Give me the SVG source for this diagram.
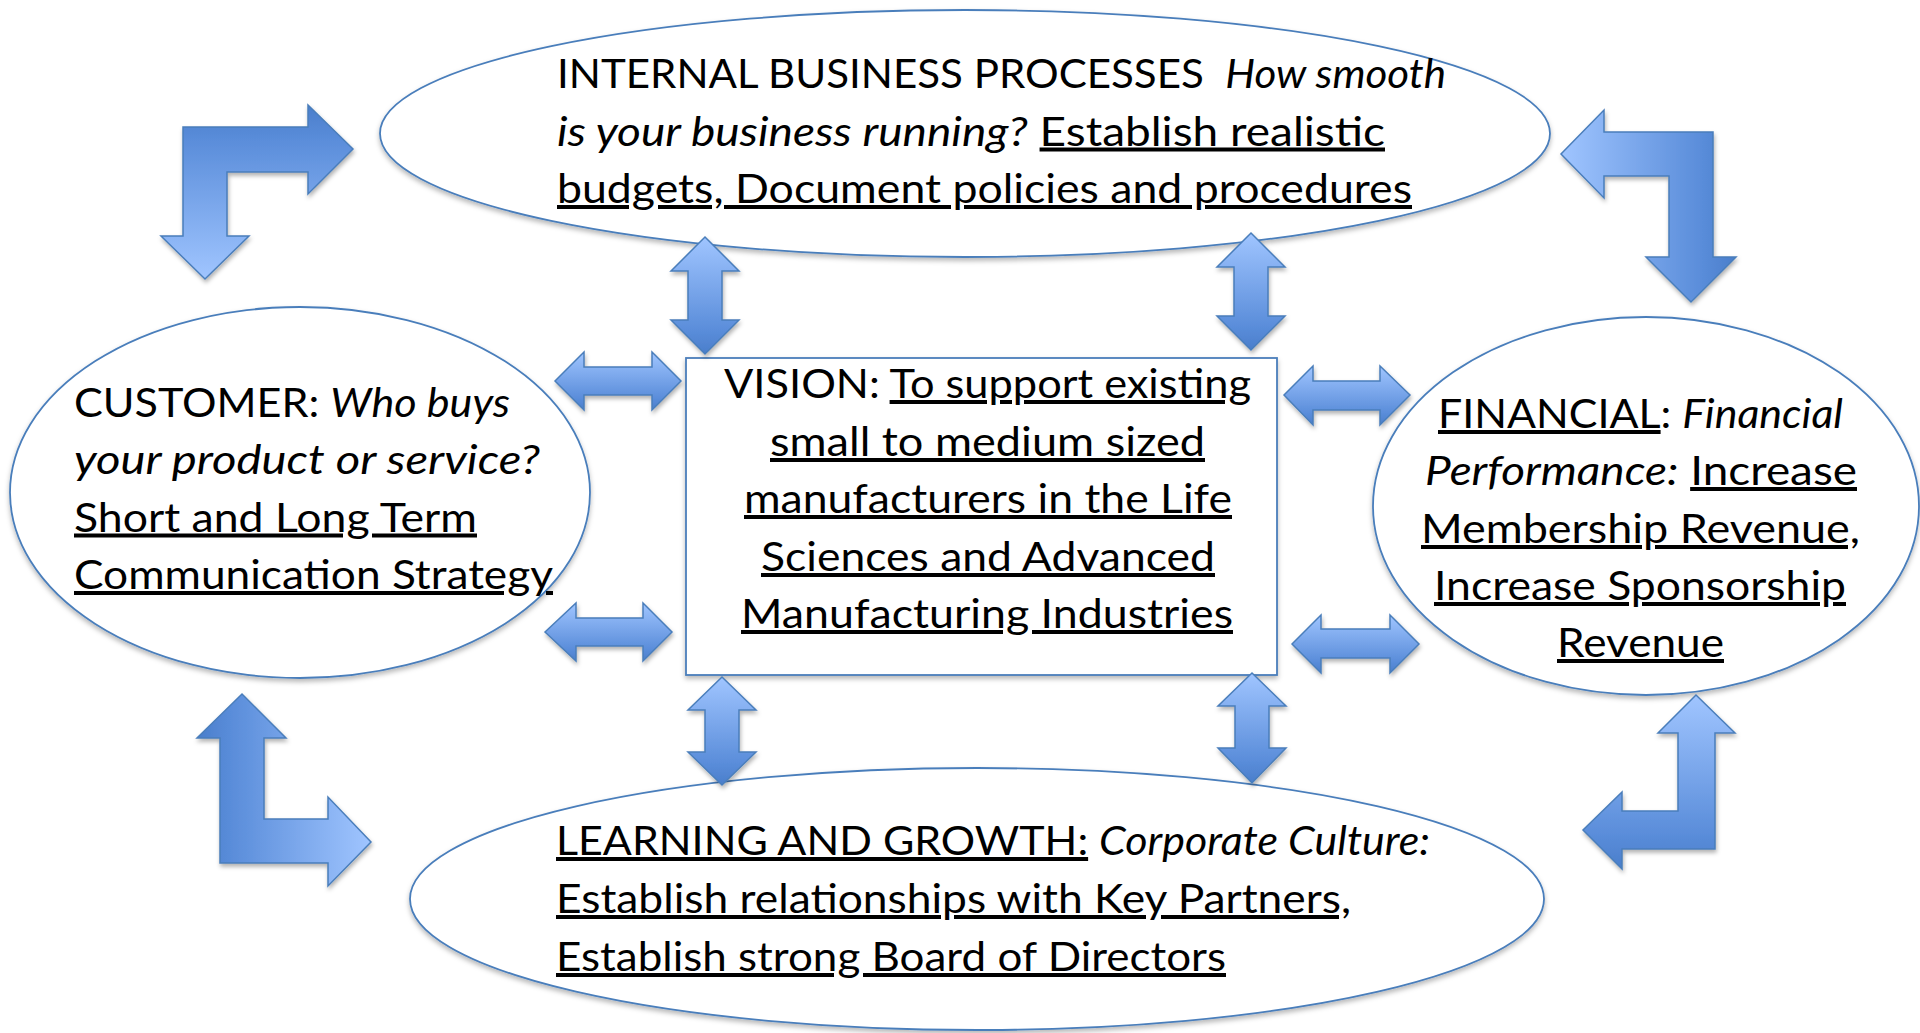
<svg xmlns="http://www.w3.org/2000/svg" width="1920" height="1033" viewBox="0 0 1920 1033">
<defs>
<style>
.node{fill:#ffffff;stroke:#4A7EBB;stroke-width:1.8;filter:url(#sh)}
.arw{stroke:#4A7EBB;stroke-width:1.5;stroke-linejoin:miter;filter:url(#sh2)}
text{font-family:Lato,"Liberation Sans",sans-serif;font-size:40px;fill:#000}
.i{font-style:italic}
.u{text-decoration:underline;text-decoration-skip-ink:none;text-decoration-thickness:3px}
</style>
<filter id="sh" x="-5%" y="-5%" width="110%" height="115%">
<feDropShadow dx="0" dy="3" stdDeviation="2.5" flood-color="#000" flood-opacity="0.28"/>
</filter>
<filter id="sh2" x="-20%" y="-20%" width="140%" height="140%">
<feDropShadow dx="1" dy="3" stdDeviation="2" flood-color="#000" flood-opacity="0.3"/>
</filter>
<linearGradient id="gDown" x1="0" y1="0" x2="0" y2="1">
<stop offset="0" stop-color="#A0C5FF"/><stop offset="0.8" stop-color="#5A8DDA"/><stop offset="1" stop-color="#4A7ECB"/>
</linearGradient>
<linearGradient id="gUp" x1="0" y1="1" x2="0" y2="0">
<stop offset="0" stop-color="#A0C5FF"/><stop offset="0.8" stop-color="#5A8DDA"/><stop offset="1" stop-color="#4A7ECB"/>
</linearGradient>
<linearGradient id="gRight" x1="0" y1="0" x2="1" y2="0">
<stop offset="0" stop-color="#A0C5FF"/><stop offset="0.8" stop-color="#5A8DDA"/><stop offset="1" stop-color="#4A7ECB"/>
</linearGradient>
<linearGradient id="gLeft" x1="1" y1="0" x2="0" y2="0">
<stop offset="0" stop-color="#A0C5FF"/><stop offset="0.8" stop-color="#5A8DDA"/><stop offset="1" stop-color="#4A7ECB"/>
</linearGradient>
</defs>
<rect width="1920" height="1033" fill="#ffffff"/>

<g id="internal">
<ellipse class="node" cx="965" cy="133.5" rx="585" ry="123.5"/>
<text x="557" y="88" textLength="889" lengthAdjust="spacingAndGlyphs" xml:space="preserve">INTERNAL BUSINESS PROCESSES  <tspan class="i">How smooth</tspan></text>
<text x="557" y="145.5" textLength="828" lengthAdjust="spacingAndGlyphs"><tspan class="i">is your business running?</tspan> <tspan class="u">Establish realistic</tspan></text>
<text x="557" y="203" textLength="855" lengthAdjust="spacingAndGlyphs" class="u">budgets, Document policies and procedures</text>
</g>

<g id="customer">
<ellipse class="node" cx="300" cy="492.5" rx="290" ry="185.5"/>
<text x="74" y="417" textLength="436" lengthAdjust="spacingAndGlyphs">CUSTOMER: <tspan class="i">Who buys</tspan></text>
<text x="74" y="474" textLength="466" lengthAdjust="spacingAndGlyphs" class="i">your product or service?</text>
<text x="74" y="531.5" textLength="403" lengthAdjust="spacingAndGlyphs" class="u">Short and Long Term</text>
<text x="74" y="589" textLength="479" lengthAdjust="spacingAndGlyphs" class="u">Communication Strategy</text>
</g>

<g id="vision">
<rect class="node" x="686" y="358" width="591" height="317"/>
<text x="724" y="398" textLength="527" lengthAdjust="spacingAndGlyphs">VISION: <tspan class="u">To support existing</tspan></text>
<text x="770" y="456" textLength="435" lengthAdjust="spacingAndGlyphs" class="u">small to medium sized</text>
<text x="744" y="513" textLength="488" lengthAdjust="spacingAndGlyphs" class="u">manufacturers in the Life</text>
<text x="761" y="571" textLength="454" lengthAdjust="spacingAndGlyphs" class="u">Sciences and Advanced</text>
<text x="741" y="628" textLength="492" lengthAdjust="spacingAndGlyphs" class="u">Manufacturing Industries</text>
</g>

<g id="financial">
<ellipse class="node" cx="1646" cy="506" rx="273" ry="189"/>
<text x="1438" y="428" textLength="405" lengthAdjust="spacingAndGlyphs"><tspan class="u">FINANCIAL</tspan>: <tspan class="i">Financial</tspan></text>
<text x="1425" y="485" textLength="432" lengthAdjust="spacingAndGlyphs"><tspan class="i">Performance:</tspan> <tspan class="u">Increase</tspan></text>
<text x="1421" y="543" textLength="439" lengthAdjust="spacingAndGlyphs" class="u">Membership Revenue,</text>
<text x="1434" y="600" textLength="412" lengthAdjust="spacingAndGlyphs" class="u">Increase Sponsorship</text>
<text x="1557" y="657" textLength="167" lengthAdjust="spacingAndGlyphs" class="u">Revenue</text>
</g>

<g id="learning">
<ellipse class="node" cx="977" cy="899" rx="567" ry="131"/>
<text x="556" y="855" textLength="874" lengthAdjust="spacingAndGlyphs"><tspan class="u">LEARNING AND GROWTH:</tspan> <tspan class="i">Corporate Culture:</tspan></text>
<text x="556" y="913" textLength="795" lengthAdjust="spacingAndGlyphs" class="u">Establish relationships with Key Partners,</text>
<text x="556" y="971" textLength="670" lengthAdjust="spacingAndGlyphs" class="u">Establish strong Board of Directors</text>
</g>

<g id="connectors">
<path class="arw" fill="url(#gUp)" d="M183,127 L308,127 L308,105 L353,149 L308,194 L308,172 L227,172 L227,236 L249,236 L205,279 L161,236 L183,236 Z"/>
<path class="arw" fill="url(#gRight)" d="M1713,132 L1713,257 L1736,257 L1691,302 L1646,257 L1669,257 L1669,176 L1604,176 L1604,198 L1561,154 L1604,110 L1604,132 Z"/>
<path class="arw" fill="url(#gLeft)" d="M220,863 L220,738 L197,738 L242,694 L286,738 L264,738 L264,819 L328,819 L328,797 L371,842 L328,886 L328,863 Z"/>
<path class="arw" fill="url(#gDown)" d="M1715,733 L1735,733 L1696,695 L1658,733 L1678,733 L1678,811 L1622,811 L1622,792 L1583,830 L1622,869 L1622,849 L1715,849 Z"/>
<path class="arw" fill="url(#gDown)" d="M705,237 L739,271 L722,271 L722,320 L739,320 L705,354 L671,320 L688,320 L688,271 L671,271 Z"/>
<path class="arw" fill="url(#gDown)" d="M1251,233 L1285,267 L1268,267 L1268,316 L1285,316 L1251,350 L1217,316 L1234,316 L1234,267 L1217,267 Z"/>
<path class="arw" fill="url(#gDown)" d="M722,677 L756,710 L739,710 L739,752 L756,752 L722,785 L688,752 L705,752 L705,710 L688,710 Z"/>
<path class="arw" fill="url(#gDown)" d="M1252,673 L1286,706 L1269,706 L1269,748 L1286,748 L1252,783 L1218,748 L1235,748 L1235,706 L1218,706 Z"/>
<path class="arw" fill="url(#gDown)" d="M555,381 L584,352 L584,367 L652,367 L652,352 L681,381 L652,410 L652,395 L584,395 L584,410 Z"/>
<path class="arw" fill="url(#gDown)" d="M545,632 L576,603 L576,618 L643,618 L643,603 L672,632 L643,661 L643,646 L576,646 L576,661 Z"/>
<path class="arw" fill="url(#gDown)" d="M1284,395 L1313,366 L1313,381 L1380,381 L1380,366 L1410,395 L1380,425 L1380,410 L1313,410 L1313,425 Z"/>
<path class="arw" fill="url(#gDown)" d="M1292,644 L1321,615 L1321,629 L1390,629 L1390,615 L1419,644 L1390,673 L1390,658 L1321,658 L1321,673 Z"/>
</g>
</svg>
